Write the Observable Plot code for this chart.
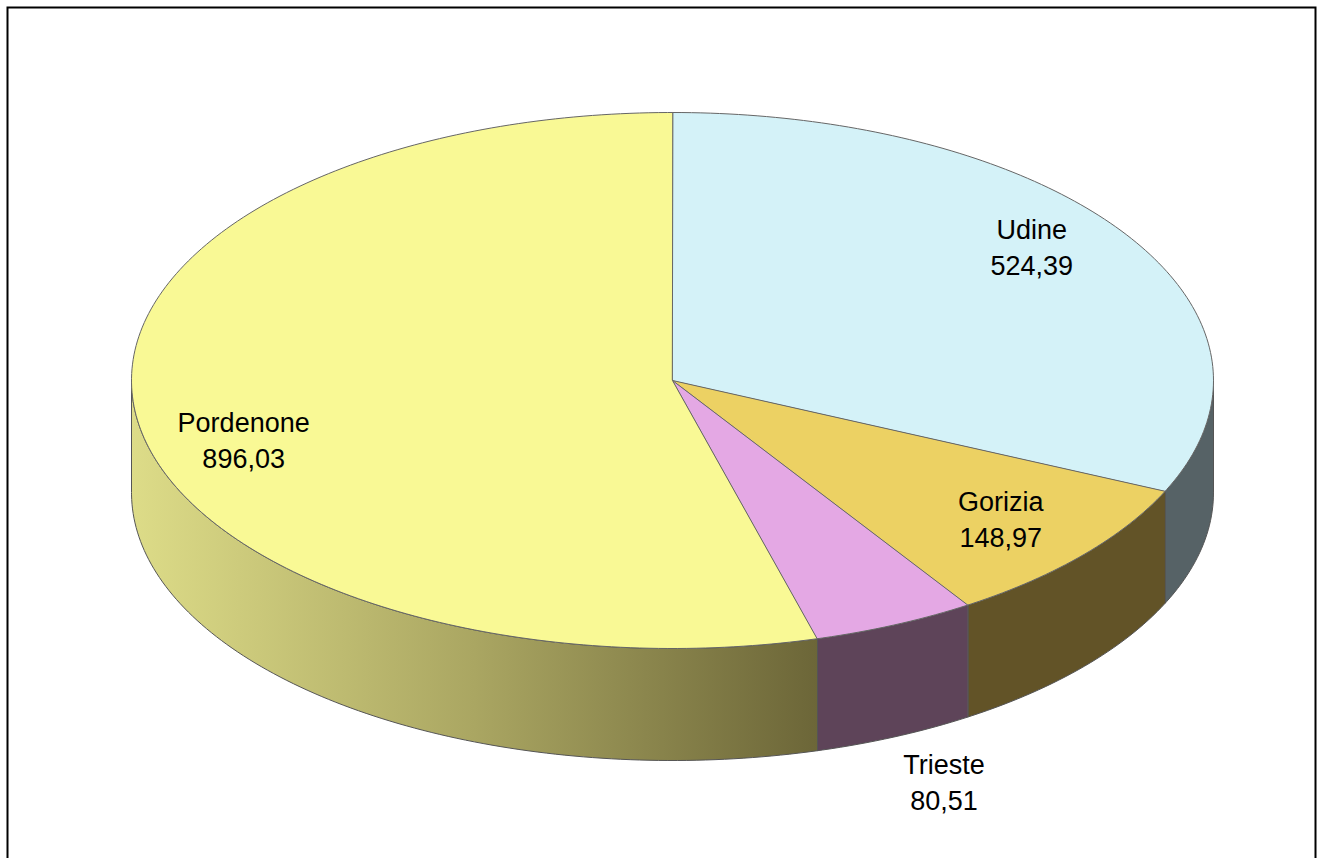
<!DOCTYPE html>
<html>
<head>
<meta charset="utf-8">
<script src="https://cdn.jsdelivr.net/npm/d3@7"></script>
<script src="https://cdn.jsdelivr.net/npm/@observablehq/plot@0.6"></script>
<style>body{margin:0;background:#fff}</style>
</head>
<body>
<div id="chart"></div>
<script>
// dati
var province = ["Udine", "Gorizia", "Trieste", "Pordenone"]
var valori = [524.39, 148.97, 80.51, 896.03]
var etichette = ["524,39", "148,97", "80,51", "896,03"]

var coloriTop = ["#d4f2f8", "#ecd163", "#e4a8e4", "#f9f995"]
var coloriLato = ["#566266", "#625327", "#5e4459", "url(#pgrad)"]
// posizione etichette: fattore radiale e spostamento verticale
var labR = [0.79, 0.8, 1.22, 0.8]
var labDy = [-0.067, 0, -0.025, 0.12]

var cx = 672, cy = 380, rx = 541, ry = 268, depth = 112
var W = 1322, H = 858

var tot = d3.sum(valori)
var pt = (a, dz = 0, f = 1) => ({x: cx + f * rx * Math.sin(a), y: cy - f * ry * Math.cos(a) + dz})
var rad = Math.PI / 180

var facce = [], lati = [], labels = []
var a0 = 0
valori.forEach((v, i) => {
  var a1 = a0 + v / tot * 2 * Math.PI
  var id = province[i]
  facce.push({...pt(0, 0, 0), id, fill: coloriTop[i]})
  for (var a = a0; a < a1; a += rad) facce.push({...pt(a), id, fill: coloriTop[i]})
  facce.push({...pt(a1), id, fill: coloriTop[i]})
  var s0 = Math.max(a0, Math.PI / 2), s1 = Math.min(a1, 1.5 * Math.PI)
  if (s1 > s0) {
    var arc = []
    for (var a = s0; a < s1; a += rad) arc.push(a)
    arc.push(s1)
    arc.forEach(a => lati.push({...pt(a), id, fill: coloriLato[i]}))
    arc.slice().reverse().forEach(a => lati.push({...pt(a, depth), id, fill: coloriLato[i]}))
  }
  var m = (a0 + a1) / 2
  var p = pt(m, labDy[i] * ry + (labR[i] > 1 ? depth : 0), labR[i])
  labels.push({x: p.x, y: p.y - 18, t: province[i]})
  labels.push({x: p.x, y: p.y + 18, t: etichette[i]})
  a0 = a1
})

var chart = Plot.plot({
  width: W,
  height: H,
  margin: 0,
  x: {domain: [0, W], range: [0, W], axis: null},
  y: {domain: [0, H], range: [0, H], axis: null},
  color: {type: "identity"},
  marks: [
    Plot.line(lati, {x: "x", y: "y", z: "id", fill: "fill", stroke: "#555", strokeWidth: 1, curve: "linear-closed"}),
    Plot.line(facce, {x: "x", y: "y", z: "id", fill: "fill", stroke: "#666", strokeWidth: 1, curve: "linear-closed"}),
    Plot.text(labels, {x: "x", y: "y", text: "t", fontSize: 27, fill: "black", fontFamily: "Liberation Sans, Arial"}),
    Plot.frame({stroke: "black", strokeWidth: 2, insetLeft: 7, insetTop: 7, insetRight: 7, insetBottom: -5})
  ]
})

var defs = d3.select(chart).insert("defs", ":first-child")
var g = defs.append("linearGradient").attr("id", "pgrad").attr("x1", "0").attr("x2", "1").attr("y1", "0").attr("y2", "0")
g.append("stop").attr("offset", "0").attr("stop-color", "#dddc88")
g.append("stop").attr("offset", "0.5").attr("stop-color", "#aaa662")
g.append("stop").attr("offset", "1").attr("stop-color", "#6c6638")

d3.select('#chart').append(() => chart)
</script>
</body>
</html>
